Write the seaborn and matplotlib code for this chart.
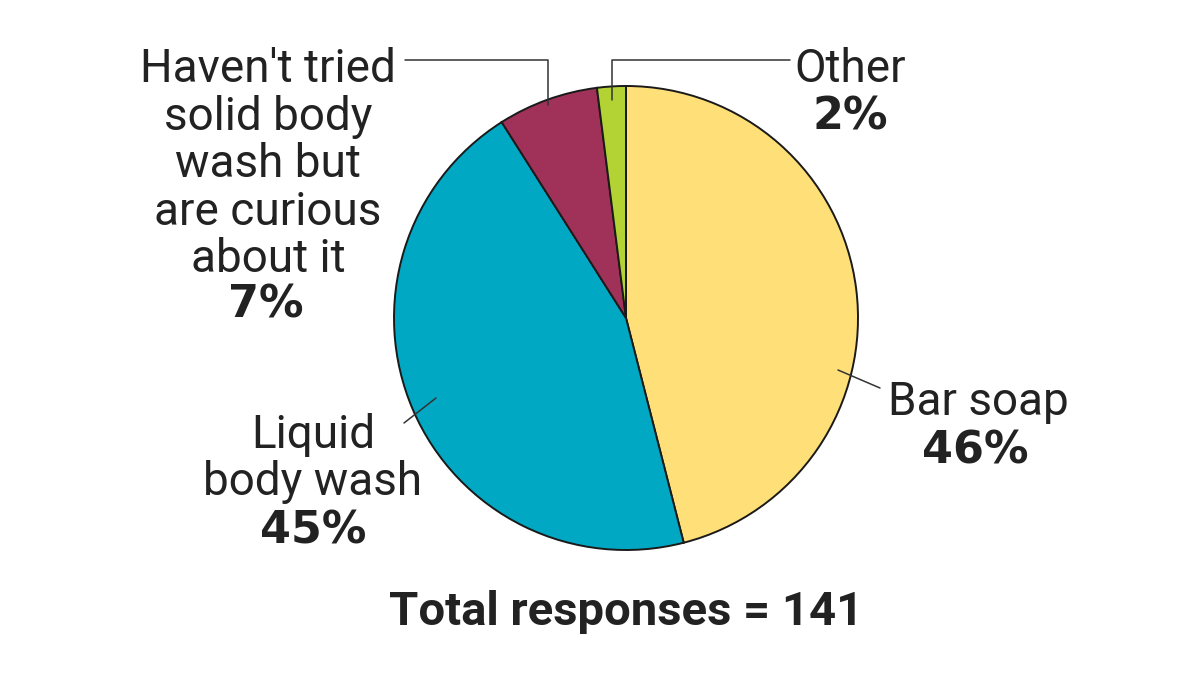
import matplotlib
matplotlib.use("Agg")
import matplotlib.pyplot as plt
import seaborn as sns

# Survey data
categories = ["Bar soap", "Liquid body wash",
              "Haven't tried solid body wash but are curious about it", "Other"]
shares = [46, 45, 7, 2]
total_responses = 141
slice_colors = ["#FFDF78", "#00A8C4", "#A0325A", "#B3D335"]

sns.set_theme(style="white")
plt.rcParams['font.family'] = ['Roboto', 'DejaVu Sans']

W, H = 1200, 675
fig = plt.figure(figsize=(12, 6.75), dpi=100)
ax = fig.add_axes([0, 0, 1, 1])


def py(y):
    # convert top-origin pixel y into data y
    return H - y


palette = sns.color_palette(slice_colors)
ax.pie(shares, colors=palette, startangle=90, counterclock=False,
       center=(626, py(318)), radius=232,
       wedgeprops=dict(edgecolor="#1a1a1a", linewidth=1.4))
ax.set_xlim(0, W)
ax.set_ylim(0, H)
ax.set_aspect("equal")
ax.axis("off")

ink = "#222222"
line_kw = dict(color="#333333", lw=1.1)

# leader lines
ax.plot([548, 548, 405], [py(105), py(60), py(60)], **line_kw)
ax.plot([612, 612, 790], [py(100), py(60), py(60)], **line_kw)
ax.plot([838, 880], [py(370), py(388)], **line_kw)
ax.plot([436, 404], [py(398), py(423)], **line_kw)


def label(x, y, s):
    ax.text(x, py(y), s, ha="center", va="baseline", color=ink, fontsize=33)


def pct(x, y, v):
    ax.text(x, py(y), f"{v}%", ha="center", va="baseline", color=ink,
            fontsize=32, fontweight="bold", family=["DejaVu Sans"])


# Haven't tried ...
for s, y in zip(["Haven't tried", "solid body", "wash but", "are curious", "about it"],
                [82, 130, 177, 225, 272]):
    label(268, y, s)
pct(266, 318, shares[2])

# Other
label(850, 82, categories[3])
pct(850, 130, shares[3])

# Bar soap
label(978, 415, categories[0])
pct(975, 463, shares[0])

# Liquid body wash
label(313, 448, "Liquid")
label(313, 495, "body wash")
pct(313, 543, shares[1])

ax.text(626, py(625), f"Total responses = {total_responses}", ha="center",
        va="baseline", color=ink, fontsize=34, fontweight="bold")

fig.savefig("out.png", dpi=100, facecolor="white")
